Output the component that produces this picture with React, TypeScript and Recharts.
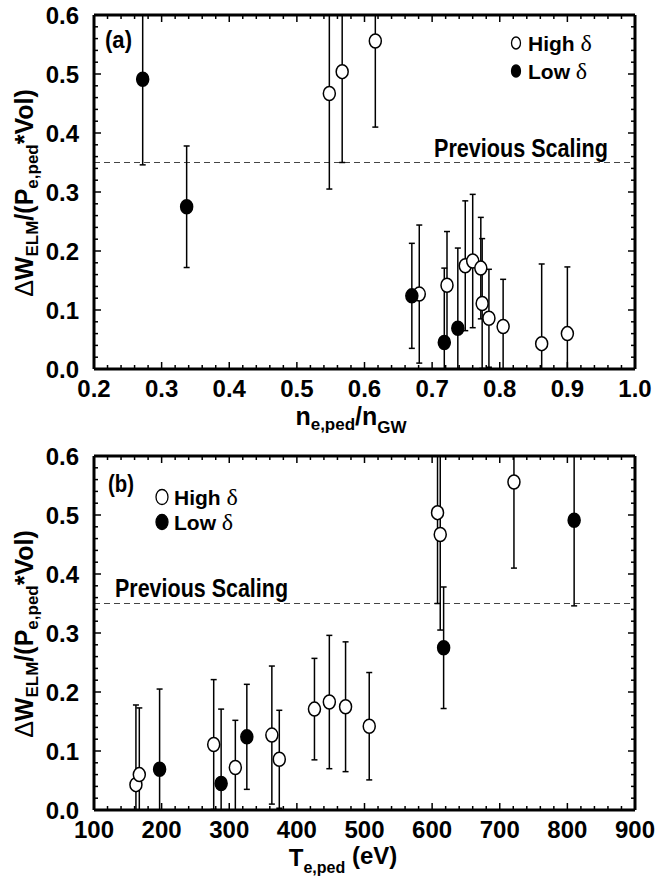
import { ScatterChart, Scatter, XAxis, YAxis, ErrorBar, ReferenceLine } from "recharts"

// high triangularity shots (same order in both panels)
const highDensity = [0.548, 0.567, 0.616, 0.681, 0.722, 0.749, 0.76, 0.772, 0.774, 0.784, 0.805, 0.862, 0.9]
const highTemp = [612, 608, 721, 363, 507, 472, 448, 426, 277, 374, 309, 162, 167]
const highW = [0.467, 0.504, 0.556, 0.127, 0.142, 0.175, 0.183, 0.171, 0.111, 0.086, 0.072, 0.043, 0.06]
const highErr = [0.162, 0.154, 0.146, 0.117, 0.091, 0.11, 0.113, 0.086, 0.11, 0.083, 0.08, 0.135, 0.113]

// low triangularity shots
const lowDensity = [0.272, 0.337, 0.67, 0.718, 0.738]
const lowTemp = [810, 617, 326, 288, 197]
const lowW = [0.491, 0.275, 0.124, 0.045, 0.069]
const lowErr = [0.145, 0.103, 0.089, 0.126, 0.136]

const previousScaling = 0.35

const wTicks = [0, 0.1, 0.2, 0.3, 0.4, 0.5, 0.6]
const densityTicks = [0.2, 0.3, 0.4, 0.5, 0.6, 0.7, 0.8, 0.9, 1.0]
const tempTicks = [100, 200, 300, 400, 500, 600, 700, 800, 900]

const FONT = "'Liberation Sans', Arial, Helvetica, sans-serif"
const SERIF = "'Liberation Serif', 'Times New Roman', serif"
const PLOT_W = 541
const PLOT_H = 354
const W_MAX = 0.6

function withMinor(major: number[], parts = 5) {
  const out: number[] = []
  for (let i = 0; i < major.length - 1; i++) {
    const step = (major[i + 1] - major[i]) / parts
    for (let k = 0; k < parts; k++) out.push(+(major[i] + k * step).toFixed(6))
  }
  out.push(major[major.length - 1])
  return out
}

const isMajor = (majors: number[], v: number) => majors.some((m) => Math.abs(m - v) < 1e-6)

function BottomTick(props: any) {
  const { x, y, payload, majors, fmt } = props
  const major = isMajor(majors, payload.value)
  const len = major ? 7 : 4
  return (
    <g>
      <line x1={x} y1={y} x2={x} y2={y - len} stroke="#000" strokeWidth={1.5} />
      <line x1={x} y1={y - PLOT_H} x2={x} y2={y - PLOT_H + len} stroke="#000" strokeWidth={1.5} />
      {major && (
        <text x={x} y={y + 28} textAnchor="middle" fontFamily={FONT} fontWeight="bold" fontSize={24} fill="#000">
          {fmt(payload.value)}
        </text>
      )}
    </g>
  )
}

function LeftTick(props: any) {
  const { x, y, payload } = props
  const major = isMajor(wTicks, payload.value)
  const len = major ? 7 : 4
  return (
    <g>
      <line x1={x} y1={y} x2={x + len} y2={y} stroke="#000" strokeWidth={1.5} />
      <line x1={x + PLOT_W} y1={y} x2={x + PLOT_W - len} y2={y} stroke="#000" strokeWidth={1.5} />
      {major && (
        <text x={x - 15} y={y + 9} textAnchor="end" fontFamily={FONT} fontWeight="bold" fontSize={24} fill="#000">
          {payload.value.toFixed(1)}
        </text>
      )}
    </g>
  )
}

const Marker = (filled: boolean) => (p: any) =>
  <ellipse cx={p.cx} cy={p.cy} rx={6} ry={7} fill={filled ? "#000" : "#fff"} stroke="#000" strokeWidth={1.5} />

// error bars stop at the frame, like the original plot
const clipErr = (w: number, e: number) => [Math.min(e, w), Math.min(e, W_MAX - w)]

function Panel({ xs, lows, majors, domain, fmt, top }: any) {
  const high = highW.map((w, i) => ({ x: xs[i], y: w, err: clipErr(w, highErr[i]) }))
  const low = lowW.map((w, i) => ({ x: lows[i], y: w, err: clipErr(w, lowErr[i]) }))
  return (
    <div style={{ position: "absolute", left: 0, top }}>
      <ScatterChart width={656} height={top === 0 ? 440 : 441} margin={{ top: top === 0 ? 15 : 16, right: 21, bottom: 41, left: 34 }}>
        <XAxis
          type="number"
          dataKey="x"
          domain={domain}
          allowDataOverflow
          ticks={withMinor(majors)}
          interval={0}
          tickSize={0}
          tickMargin={0}
          height={30}
          axisLine={{ stroke: "#000", strokeWidth: 3 }}
          tick={(p: any) => <BottomTick {...p} majors={majors} fmt={fmt} />}
        />
        <YAxis
          type="number"
          dataKey="y"
          domain={[0, W_MAX]}
          allowDataOverflow
          ticks={withMinor(wTicks)}
          interval={0}
          tickSize={0}
          tickMargin={0}
          width={60}
          axisLine={{ stroke: "#000", strokeWidth: 3 }}
          tick={(p: any) => <LeftTick {...p} />}
        />
        <ReferenceLine y={previousScaling} stroke="#444" strokeWidth={1.2} strokeDasharray="6 4" />
        <Scatter data={high} shape={Marker(false)} isAnimationActive={false}>
          <ErrorBar dataKey="err" direction="y" width={3} stroke="#000" strokeWidth={1.5} />
        </Scatter>
        <Scatter data={low} shape={Marker(true)} isAnimationActive={false}>
          <ErrorBar dataKey="err" direction="y" width={3} stroke="#000" strokeWidth={1.5} />
        </Scatter>
        <ReferenceLine y={W_MAX} stroke="#000" strokeWidth={3} />
        <ReferenceLine x={domain[1]} stroke="#000" strokeWidth={3} />
      </ScatterChart>
    </div>
  )
}

function YTitle({ cy }: { cy: number }) {
  return (
    <text transform="rotate(-90)" x={-cy} y={33} textAnchor="middle" fontFamily={FONT} fontWeight="bold" fontSize={25}>
      <tspan fontWeight="normal">Δ</tspan>W
      <tspan fontSize={17} dy={5}>ELM</tspan>
      <tspan dy={-5}>/(P</tspan>
      <tspan fontSize={17} dy={5}>e,ped</tspan>
      <tspan dy={-5}>*Vol)</tspan>
    </text>
  )
}

function Legend({ x, y, gap, rx, ry }: { x: number; y: number; gap: number; rx: number; ry: number }) {
  return (
    <g fontFamily={FONT} fontWeight="bold" fontSize={21}>
      <ellipse cx={x} cy={y} rx={rx} ry={ry} fill="#fff" stroke="#000" strokeWidth={1.3} />
      <text x={x + 12} y={y + 8}>
        High <tspan fontFamily={SERIF} fontWeight="normal" fontSize={24}>δ</tspan>
      </text>
      <ellipse cx={x} cy={y + gap} rx={rx} ry={ry} fill="#000" stroke="#000" strokeWidth={1.3} />
      <text x={x + 12} y={y + gap + 8}>
        Low <tspan fontFamily={SERIF} fontWeight="normal" fontSize={24}>δ</tspan>
      </text>
    </g>
  )
}

export default function App() {
  return (
    <div style={{ position: "absolute", left: 0, top: 0, width: 656, height: 881, background: "#fff" }}>
      <Panel xs={highDensity} lows={lowDensity} majors={densityTicks} domain={[0.2, 1.0]} fmt={(v: number) => v.toFixed(1)} top={0} />
      <Panel xs={highTemp} lows={lowTemp} majors={tempTicks} domain={[100, 900]} fmt={(v: number) => String(v)} top={440} />
      <svg width={656} height={881} style={{ position: "absolute", left: 0, top: 0, pointerEvents: "none" }}>
        <g fontFamily={FONT} fontWeight="bold" fill="#000">
          <text x={105} y={48} fontSize={24} textLength={27} lengthAdjust="spacingAndGlyphs">(a)</text>
          <text x={108} y={492} fontSize={24} textLength={26} lengthAdjust="spacingAndGlyphs">(b)</text>
          <text x={434} y={157} fontSize={25} textLength={174} lengthAdjust="spacingAndGlyphs">Previous Scaling</text>
          <text x={115} y={597} fontSize={25} textLength={173} lengthAdjust="spacingAndGlyphs">Previous Scaling</text>
          <text x={351} y={425} fontSize={25} textAnchor="middle">
            n<tspan fontSize={17} dy={5}>e,ped</tspan>
            <tspan dy={-5}>/n</tspan>
            <tspan fontSize={17} dy={8}>GW</tspan>
          </text>
          <text x={343} y={866} fontSize={24} textAnchor="middle">
            T<tspan fontSize={16} dy={7}>e,ped</tspan>
            <tspan dy={-9}> (eV)</tspan>
          </text>
        </g>
        <YTitle cy={193} />
        <YTitle cy={634} />
        <Legend x={516} y={43} gap={28} rx={4.5} ry={6} />
        <Legend x={162} y={497} gap={25} rx={6} ry={7.5} />
      </svg>
    </div>
  )
}
